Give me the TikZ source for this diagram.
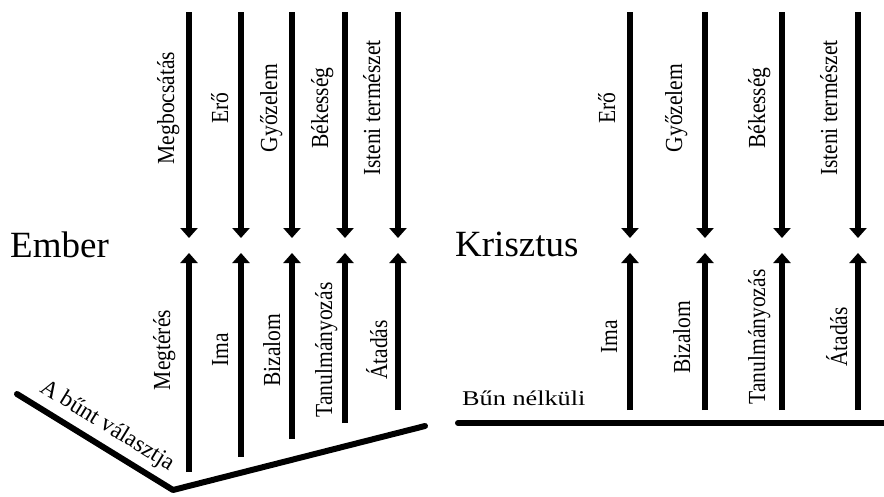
\documentclass[tikz,border=0pt]{standalone}
\usepackage{fontspec}
\setmainfont{Liberation Serif}
\newfontfamily\labfont[FakeStretch=0.88]{Liberation Serif}
\newfontfamily\widefont[FakeStretch=1.25]{Liberation Serif}
\usetikzlibrary{arrows.meta}
\begin{document}
\begin{tikzpicture}[x=1pt,y=-1pt,
  arr/.style={line width=6.5pt, -{Triangle[width=17pt,length=10pt]}},
  lab/.style={rotate=90, anchor=base, inner sep=0pt, font=\labfont\fontsize{24.5}{24.5}\selectfont},
  big/.style={anchor=base west, inner sep=0pt, font=\fontsize{37}{37}\selectfont},
  ground/.style={line width=6pt, line cap=round, line join=round}]
\path[use as bounding box] (0,0) rectangle (884,496);

% titles
\node[big] (ember) at (10,257) {Ember};
\node[big] (krisztus) at (455,256) {Krisztus};
\node[anchor=base west, inner sep=0pt, font=\widefont\fontsize{21}{21}\selectfont] (bun) at (462,405) {Bűn nélküli};
\node[anchor=base, inner sep=0pt, rotate=-31.6, font=\fontsize{23.5}{23.5}\selectfont] (valaszt) at (104,431) {A bűnt választja};

% ground lines
\coordinate (vL) at (17,394);
\coordinate (vM) at (173,490);
\coordinate (vR) at (425,426);
\draw[ground] (vL) -- (vM) -- (vR);
\coordinate (hL) at (458,423);
\coordinate (hR) at (890,423);
\draw[ground] (hL) -- (hR);

% left group arrows
\foreach \i/\x/\b in {1/189/472, 2/241/457, 3/292/439, 4/345/423, 5/398/410}{
  \coordinate (ld\i s) at (\x,12);
  \coordinate (ld\i e) at (\x,238);
  \coordinate (lu\i s) at (\x,\b);
  \coordinate (lu\i e) at (\x,253);
  \draw[arr] (ld\i s) -- (ld\i e);
  \draw[arr] (lu\i s) -- (lu\i e);
}
% right group arrows
\foreach \i/\x in {1/630, 2/705, 3/782, 4/858}{
  \coordinate (rd\i s) at (\x,12);
  \coordinate (rd\i e) at (\x,238);
  \coordinate (ru\i s) at (\x,410);
  \coordinate (ru\i e) at (\x,253);
  \draw[arr] (rd\i s) -- (rd\i e);
  \draw[arr] (ru\i s) -- (ru\i e);
}

% left labels
\node[lab] (l1) at (174,108) {Megbocsátás};
\node[lab] (l2) at (228,108) {Erő};
\node[lab] (l3) at (277,108) {Győzelem};
\node[lab] (l4) at (328,108) {Békesség};
\node[lab] (l5) at (380,108) {Isteni természet};
\node[lab] (m1) at (170,350) {Megtérés};
\node[lab] (m2) at (228,350) {Ima};
\node[lab] (m3) at (280,350) {Bizalom};
\node[lab] (m4) at (332,350) {Tanulmányozás};
\node[lab] (m5) at (387,350) {Átadás};

% right labels
\node[lab] (r1) at (615,108) {Erő};
\node[lab] (r2) at (682,108) {Győzelem};
\node[lab] (r3) at (765,108) {Békesség};
\node[lab] (r4) at (837,108) {Isteni természet};
\node[lab] (s1) at (617,337) {Ima};
\node[lab] (s2) at (690,337) {Bizalom};
\node[lab] (s3) at (765,337) {Tanulmányozás};
\node[lab] (s4) at (847,337) {Átadás};
\end{tikzpicture}
\end{document}
